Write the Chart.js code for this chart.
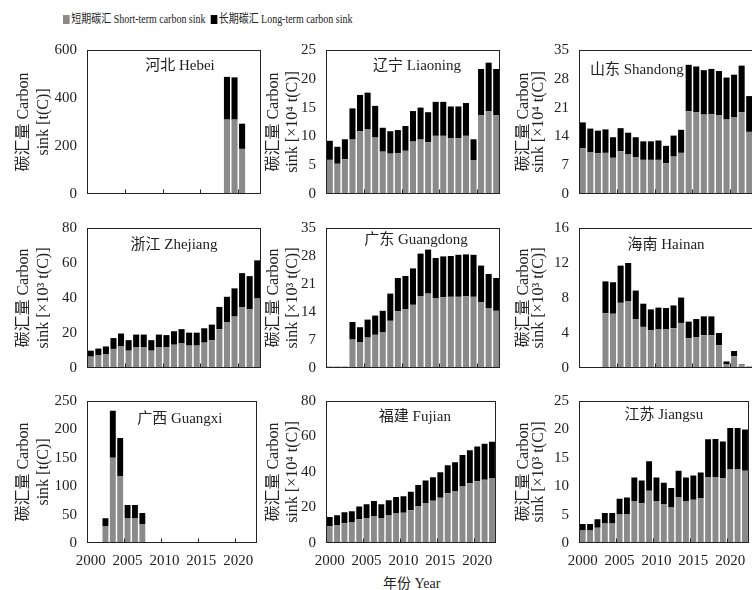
<!DOCTYPE html>
<html>
<head>
<meta charset="utf-8">
<script src="https://cdn.jsdelivr.net/npm/chart.js@4"></script>
<style>
  html, body { margin: 0; padding: 0; background: #fff; }
  #wrap { position: relative; width: 752px; height: 590px; overflow: hidden; background: #fff;
          font-family: 'Liberation Serif', 'Noto Sans CJK SC', serif; color: #222; }
  #wrap canvas { position: absolute; }
  .legend { position: absolute; top: 9px; left: 63px; font-size: 12px; white-space: nowrap;
            transform: scaleX(0.83); transform-origin: left center; }
  .legend span.box { display: inline-block; width: 8px; height: 9px; margin-right: 2px; vertical-align: -1px; }
  .xtitle { position: absolute; top: 572px; left: 383px; font-size: 14px; white-space: nowrap; }
</style>
</head>
<body>
<div id="wrap">
  <div class="legend"><span class="box" style="background:#8a8a8a"></span>短期碳汇 Short-term carbon sink&nbsp;&nbsp;<span class="box" style="background:#000"></span>长期碳汇 Long-term carbon sink</div>
  <div class="xtitle">年份 Year</div>
</div>
<script>
const years = ['2000','2001','2002','2003','2004','2005','2006','2007','2008','2009','2010','2011',
  '2012','2013','2014','2015','2016','2017','2018','2019','2020','2021','2022'];

// short-term (grey) and long-term (black) carbon sink
const hebeiShort = [0,0,0,0,0,0,0,0,0,0,0,0,0,0,0,0,0,0,310,310,188,0,0];
const hebeiLong  = [0,0,0,0,0,0,0,0,0,0,0,0,0,0,0,0,0,0,178,176,105,0,0];

const liaoningShort = [5.93,5.25,6.04,9.45,10.9,11.2,9.8,7.35,7.0,7.1,7.5,9.1,9.45,9.0,10.1,10.1,9.7,9.7,10.1,5.9,13.7,14.4,13.7];
const liaoningLong  = [3.31,2.95,3.46,5.41,6.3,6.4,5.5,4.15,3.9,4.0,4.3,5.3,5.55,5.2,5.9,5.9,5.5,5.5,5.7,3.6,8.0,8.4,8.0];

const shandongShort = [11.1,10.1,9.9,10.0,8.8,10.4,9.6,8.9,8.3,8.3,8.3,7.5,9.1,10.0,20.1,19.9,19.3,19.4,19.1,18.1,18.6,19.9,15.1];
const shandongLong  = [6.3,5.8,5.5,5.7,5.0,5.6,5.3,4.9,4.5,4.5,4.7,4.2,5.1,5.6,11.3,11.1,10.8,11.0,10.8,10.2,10.4,11.3,8.7];

const zhejiangShort = [6.5,7.2,8.0,10.9,12.3,9.9,12.0,12.0,9.9,12.0,11.8,13.3,14.0,12.8,12.8,14.5,15.9,22.2,26.3,29.4,34.7,33.5,39.7];
const zhejiangLong  = [3.4,3.9,4.3,6.2,7.4,6.0,7.1,7.1,6.0,7.1,7.0,7.7,8.2,7.4,7.4,8.2,8.9,12.7,14.4,16.1,19.5,19.0,21.8];

const guangdongShort = [0.3,0.3,0.3,7.1,6.4,7.6,8.3,9.0,11.8,14.2,14.7,15.8,18.0,18.6,17.5,17.7,17.8,17.8,17.9,17.8,16.4,15.0,14.3];
const guangdongLong  = [0.05,0.05,0.05,4.4,3.8,4.5,4.8,5.3,6.8,8.3,8.3,9.1,10.6,11.0,10.0,10.2,10.2,10.5,10.5,10.5,9.2,8.5,8.2];

const hainanShort = [0,0,0,6.26,6.2,7.45,7.6,5.6,4.7,4.3,4.4,4.4,4.55,5.15,3.4,3.5,3.75,3.75,2.6,0.4,1.35,0.3,0.1];
const hainanLong  = [0,0,0,3.64,3.6,4.25,4.4,3.25,2.65,2.4,2.5,2.45,2.6,2.9,1.9,2.1,2.15,2.15,1.4,0.35,0.6,0.1,0.05];

const guangxiShort = [0,0,29,150,118,43,43,33.5,0,0,0,0,0,0,0,0,0,0,0,0,0,0,0];
const guangxiLong  = [0,0,14.5,83,67,24,24,19.5,0,0,0,0,0,0,0,0,0,0,0,0,0,0,0];

const fujianShort = [9.5,10.2,11.1,11.6,13.4,14.1,15.2,14.1,15.5,16.6,17.0,18.4,20.9,22.5,23.8,25.5,28.0,29.3,31.8,33.6,34.8,35.7,36.6];
const fujianLong  = [5.1,5.5,6.2,6.3,7.1,7.7,8.4,7.7,8.6,9.3,9.4,10.5,11.8,12.7,13.2,14.3,15.8,16.2,17.8,18.7,19.5,20.2,20.5];

const jiangsuShort = [2.2,2.2,2.7,3.45,3.45,5.0,5.1,7.4,7.0,9.2,7.4,6.8,6.25,8.1,7.4,7.6,7.9,11.6,11.6,11.4,12.95,12.95,12.7];
const jiangsuLong  = [1.15,1.15,1.5,1.85,1.85,2.8,2.9,4.15,4.0,5.2,4.15,3.8,3.45,4.6,4.15,4.3,4.5,6.65,6.7,6.45,7.3,7.3,7.3];

const FONT = "'Liberation Serif', 'Noto Sans CJK SC', serif";

// columns: canvas left, y-axis width, title padding, title line height
const cols = [
  {left: 0,   yw: 87, tpad: 14, lh: 20},
  {left: 262, yw: 64, tpad: 2,  lh: 19},
  {left: 512, yw: 67, tpad: 4,  lh: 15}
];
// rows: plot top, plot height, x-axis height
const rows = [
  {top: 43,  h: 160, xh: 10},
  {top: 221, h: 156, xh: 10},
  {top: 394, h: 149, xh: 32}
];
const PLOT_W = 174;

const panels = [
  {name: '河北 Hebei', s: hebeiShort, l: hebeiLong, max: 600, step: 200, unit: 'sink [t(C)]', r: 0, c: 0, dx: 6},
  {name: '辽宁 Liaoning', s: liaoningShort, l: liaoningLong, max: 25, step: 5, unit: 'sink [×10⁴ t(C)]', r: 0, c: 1, dx: 4},
  {name: '山东 Shandong', s: shandongShort, l: shandongLong, max: 35, step: 7, unit: 'sink [×10⁴ t(C)]', r: 0, c: 2, align: 'left', dx: 11, dy: 20},
  {name: '浙江 Zhejiang', s: zhejiangShort, l: zhejiangLong, max: 80, step: 20, unit: 'sink [×10³ t(C)]', r: 1, c: 0, dy: 17},
  {name: '广东 Guangdong', s: guangdongShort, l: guangdongLong, max: 35, step: 7, unit: 'sink [×10³ t(C)]', r: 1, c: 1, dx: 3, dy: 12},
  {name: '海南 Hainan', s: hainanShort, l: hainanLong, max: 16, step: 4, unit: 'sink [×10³ t(C)]', r: 1, c: 2, dy: 17},
  {name: '广西 Guangxi', s: guangxiShort, l: guangxiLong, max: 250, step: 50, unit: 'sink [t(C)]', r: 2, c: 0, dx: 8, dy: 18},
  {name: '福建 Fujian', s: fujianShort, l: fujianLong, max: 80, step: 20, unit: 'sink [×10⁴ t(C)]', r: 2, c: 1, dx: 4},
  {name: '江苏 Jiangsu', s: jiangsuShort, l: jiangsuLong, max: 25, step: 5, unit: 'sink [×10³ t(C)]', r: 2, c: 2, dy: 14}
];

// box round the plot, inside tick marks, panel name
const framePlugin = {
  id: 'frame',
  afterDatasetsDraw(chart, args, opts) {
    const {ctx, chartArea: a, scales: {x}} = chart;
    ctx.save();
    ctx.strokeStyle = '#222';
    ctx.lineWidth = 1;
    const L = Math.round(a.left) + 0.5, T = Math.round(a.top) + 0.5;
    const R = Math.round(a.right) - 0.5, B = Math.round(a.bottom) - 0.5;
    ctx.strokeRect(L, T, R - L, B - T);
    ctx.beginPath();
    for (const i of [5, 10, 15, 20]) {
      const px = Math.round((x.getPixelForTick(i - 1) + x.getPixelForTick(i)) / 2) + 0.5;
      ctx.moveTo(px, B);
      ctx.lineTo(px, B - 4);
    }
    ctx.stroke();
    ctx.fillStyle = '#222';
    ctx.font = '15px ' + FONT;
    ctx.textBaseline = 'middle';
    ctx.textAlign = opts.align || 'center';
    const tx = opts.align === 'left' ? a.left + (opts.dx || 0) : (a.left + a.right) / 2 + (opts.dx || 0);
    ctx.fillText(opts.text, tx, a.top + (opts.dy || 16));
    ctx.restore();
  }
};

const wrap = document.getElementById('wrap');

panels.forEach(p => {
  const col = cols[p.c], row = rows[p.r];
  const cv = document.createElement('canvas');
  const w = col.yw + PLOT_W + 1;
  const h = 12 + row.h + row.xh;
  cv.width = w; cv.height = h;
  cv.style.left = col.left + 'px';
  cv.style.top = (row.top - 12) + 'px';
  cv.style.width = w + 'px'; cv.style.height = h + 'px';
  wrap.appendChild(cv);
  const bottomRow = p.r === 2;

  new Chart(cv, {
    type: 'bar',
    data: {
      labels: years,
      datasets: [
        {label: '短期碳汇 Short-term carbon sink', data: p.s, backgroundColor: '#8a8a8a', borderWidth: 0},
        {label: '长期碳汇 Long-term carbon sink', data: p.l, backgroundColor: '#000000', borderWidth: 0}
      ]
    },
    plugins: [framePlugin],
    options: {
      responsive: false,
      animation: false,
      devicePixelRatio: 1,
      barPercentage: 0.8,
      categoryPercentage: 1,
      layout: {padding: {top: 12, right: 1, bottom: 0, left: 0}},
      plugins: {
        legend: {display: false},
        tooltip: {enabled: false},
        frame: {text: p.name, align: p.align, dx: p.dx, dy: p.dy}
      },
      scales: {
        x: {
          stacked: true,
          grid: {display: false, drawTicks: false},
          border: {display: false},
          ticks: {
            display: bottomRow,
            autoSkip: false,
            maxRotation: 0,
            padding: 9,
            color: '#222',
            font: {family: FONT, size: 15},
            callback: (v, i) => (i % 5 === 0 ? years[i] : '')
          },
          afterFit: s => { s.height = row.xh; }
        },
        y: {
          stacked: true,
          min: 0,
          max: p.max,
          grid: {display: false, drawTicks: false},
          border: {display: false},
          ticks: {stepSize: p.step, padding: 10, color: '#222', font: {family: FONT, size: 15}},
          title: {
            display: true,
            text: ['碳汇量 Carbon', p.unit],
            color: '#222',
            padding: {top: col.tpad, bottom: 0},
            font: {family: FONT, size: 16, lineHeight: col.lh + 'px'}
          },
          afterFit: s => { s.width = col.yw; }
        }
      }
    }
  });
});
</script>
</body>
</html>
